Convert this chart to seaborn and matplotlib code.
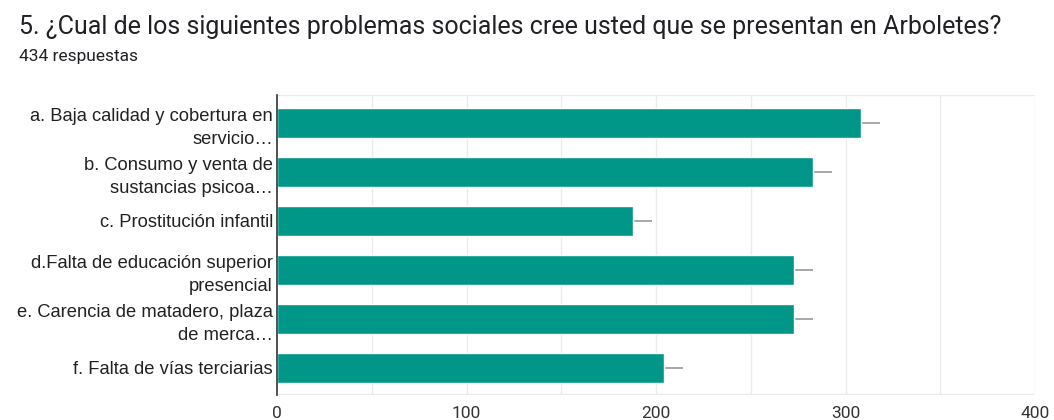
import numpy as np
import pandas as pd
import seaborn as sns
import matplotlib.pyplot as plt

# Data
categorias = [
    "a. Baja calidad y cobertura en\nservicio…",
    "b. Consumo y venta de\nsustancias psicoa…",
    "c. Prostitución infantil",
    "d.Falta de educación superior\npresencial",
    "e. Carencia de matadero, plaza\nde merca…",
    "f. Falta de vías terciarias",
]
respuestas = [308, 283, 188, 273, 273, 204]
error_sup = [10, 10, 10, 10, 10, 10]
ticks_x = [0, 100, 200, 300, 400]

df = pd.DataFrame({"categoria": categorias, "respuestas": respuestas})

sns.set_style("white")
plt.rcParams["font.family"] = ["Liberation Sans", "DejaVu Sans"]

fig = plt.figure(figsize=(10.54, 4.2), dpi=100)
ax = fig.add_axes([0.263, 0.06, 0.719, 0.715])

# Grid (every 50)
for g in np.arange(50, 401, 50):
    ax.axvline(g, color="#ebebeb", lw=1, zorder=0)
ax.axhline(-0.58, color="#ebebeb", lw=1, zorder=0)
ax.axhline(len(categorias) - 0.47, color="#ebebeb", lw=1, zorder=0)

sns.barplot(data=df, x="respuestas", y="categoria", color="#009688",
            width=0.62, saturation=1, ax=ax, zorder=2)

y = np.arange(len(categorias))
ax.errorbar(respuestas, y, xerr=[np.zeros(len(y)), error_sup], fmt="none",
            ecolor="#a0a0a0", elinewidth=1.3, capsize=0, zorder=1)

ax.set_xlim(0, 400)
ax.set_ylim(len(categorias) - 0.45, -0.58)
ax.set_xticks(ticks_x)
ax.set_xticklabels([str(t) for t in ticks_x], fontsize=12.5, color="#333333",
                   family=["Roboto", "DejaVu Sans"])
ax.tick_params(axis="x", length=0, pad=8)
ax.tick_params(axis="y", length=0, pad=3, labelsize=13.2, labelcolor="#222222")
for lbl in ax.get_yticklabels():
    lbl.set_horizontalalignment("right")
    lbl.set_linespacing(1.45)
ax.set_xlabel("")
ax.set_ylabel("")

for s in ["top", "right", "bottom"]:
    ax.spines[s].set_visible(False)
ax.spines["left"].set_color("#333333")
ax.spines["left"].set_linewidth(1.2)
ax.spines["left"].set_zorder(3)

fig.text(0.018, 0.918, "5. ¿Cual de los siguientes problemas sociales cree usted que se presentan en Arboletes?",
         fontsize=18, color="#202124", family=["Roboto", "DejaVu Sans"])
fig.text(0.018, 0.855, "434 respuestas", fontsize=12.5, color="#202124",
         family=["Roboto", "DejaVu Sans"])

fig.savefig("out.png", dpi=100)
